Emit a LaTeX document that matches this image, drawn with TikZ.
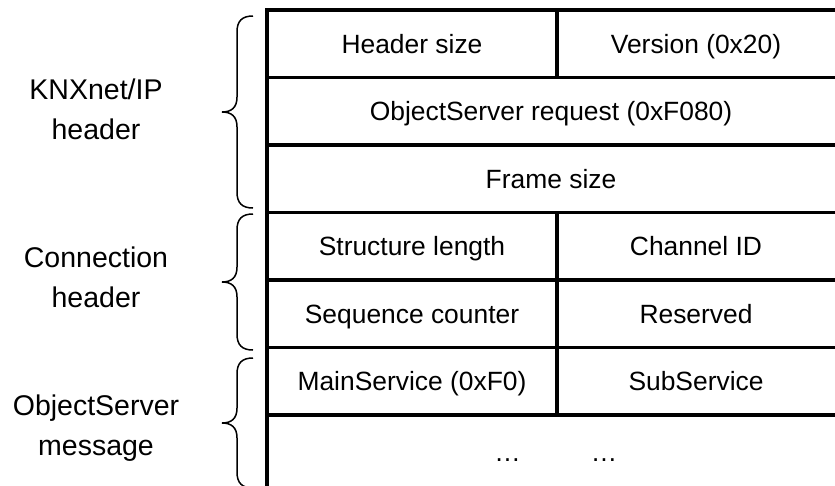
\documentclass[tikz,border=0pt]{standalone}
\usepackage{fontspec}
\setmainfont{Liberation Sans}
\begin{document}
\begin{tikzpicture}[x=1pt,y=-1pt,
  grid/.style={line width=3.5pt,line cap=rect},
  bracestyle/.style={line width=1.5pt},
  cell/.style={font=\fontsize{26.4}{32}\selectfont,inner sep=0pt,anchor=base},
  lab/.style={font=\fontsize{28.5}{40}\selectfont,align=center,inner sep=0pt}]
\useasboundingbox (0,0) rectangle (835,485);
% table lines
\foreach \y in {10,77.5,145,212.5,280,347.5,415}
  \draw[grid] (267,\y) -- (840,\y);
\draw[grid] (267,10) -- (267,490);
\draw[grid] (557,10) -- (557,77.5);
\draw[grid] (557,212.5) -- (557,415);
% braces
\newcommand\mybrace[3]{%
  \draw[bracestyle] (253,#1) .. controls (242,#1) and (237,#1+5) .. (237,#1+16)
    -- (237,#2-15) .. controls (237,#2-4) and (231,#2) .. (222,#2)
    .. controls (231,#2) and (237,#2+4) .. (237,#2+15)
    -- (237,#3-16) .. controls (237,#3-5) and (242,#3) .. (253,#3);}
\mybrace{16}{112}{208}
\mybrace{214}{282}{350}
\mybrace{358}{423}{488}
% cell texts
\node[cell] (hs) at (412,53.2) {Header size};
\node[cell] (ver) at (696,53.2) {Version (0x20)};
\node[cell] (osr) at (551,120.7) {ObjectServer request (0xF080)};
\node[cell] (fs) at (551,188.2) {Frame size};
\node[cell] (sl) at (412,255.7) {Structure length};
\node[cell] (ch) at (696,255.7) {Channel ID};
\node[cell] (sc) at (412,323.2) {Sequence counter};
\node[cell] (rs) at (696,323.2) {Reserved};
\node[cell] (ms) at (412,390.7) {MainService (0xF0)};
\node[cell] (ss) at (696,390.7) {SubService};
\node[cell] (d1) at (507.5,461) {…};
\node[cell] (d2) at (604,461) {…};
% labels
\node[lab] (l1) at (96,109) {KNXnet/IP\\header};
\node[lab] (l2) at (96,277) {Connection\\header};
\node[lab] (l3) at (96,428) {ObjectServer\\message};
\end{tikzpicture}
\end{document}
